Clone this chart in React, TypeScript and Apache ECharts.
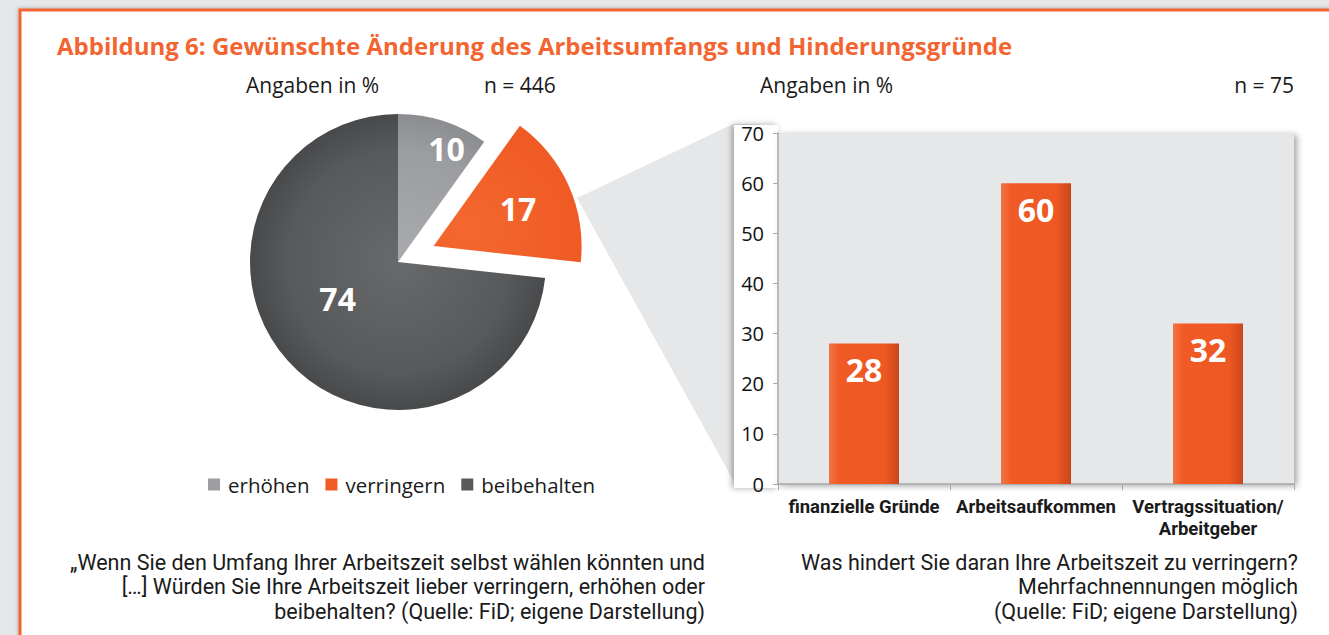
import React, { useEffect, useRef } from "react";
import * as echarts from "echarts";

const pieNames = ["erhöhen", "verringern", "beibehalten"];
const pieValues = [10, 17, 74];
const pieColors = ["#9c9da0", "#f05a24", "#58595b"];
const pieInner = ["#a9aaad", "#f3682f", "#68696b"];
const pieOuter = ["#8c8d90", "#e2511d", "#48494b"];

const barCategories = ["finanzielle Gründe", "Arbeitsaufkommen", "Vertragssituation/\nArbeitgeber"];
const barValues = [28, 60, 32];
const yTicks = { min: 0, max: 70, interval: 10 };

const title = "Abbildung 6: Gewünschte Änderung des Arbeitsumfangs und Hinderungsgründe";
const leftCaption = [
  "„Wenn Sie den Umfang Ihrer Arbeitszeit selbst wählen könnten und",
  "[…] Würden Sie Ihre Arbeitszeit lieber verringern, erhöhen oder",
  "beibehalten? (Quelle: FiD; eigene Darstellung)",
];
const rightCaption = [
  "Was hindert Sie daran Ihre Arbeitszeit zu verringern?",
  "Mehrfachnennungen möglich",
  "(Quelle: FiD; eigene Darstellung)",
];

const SANS = "'Open Sans', Lato, sans-serif";
const COND = "Roboto, 'Liberation Sans', sans-serif";

export default function App() {
  const ref = useRef<HTMLDivElement>(null);
  useEffect(() => {
    if (!ref.current) return;
    const chart = echarts.init(ref.current, undefined, { renderer: "svg" });
    const labelOffsets = [
      { dx: 25, dy: -40 },
      { dx: 14, dy: -6 },
      { dx: -3, dy: -15 },
    ];
    const pieCenter = [398, 262];
    const pieR = 148;
    const explodeShift = [
      [0, 0],
      [36, -16],
      [0, 0],
    ];
    chart.setOption({
      animation: false,
      backgroundColor: "#e6e7e8",
      textStyle: { fontFamily: SANS },
      grid: {
        left: 778,
        top: 133,
        right: 35,
        bottom: 151,
        show: true,
        z: 5,
        backgroundColor: "#e6e7e8",
        borderWidth: 0,
        shadowBlur: 6,
        shadowColor: "rgba(0,0,0,0.35)",
        shadowOffsetX: 3,
        shadowOffsetY: 2,
      },
      legend: {
        left: 203,
        top: 469,
        icon: "rect",
        itemWidth: 12,
        itemHeight: 12,
        itemGap: 16,
        data: pieNames.map((n, i) => ({ name: n, itemStyle: { color: pieColors[i] } })),
        textStyle: { fontSize: 20.5, color: "#1a1a1a", fontFamily: SANS, padding: [0, 0, 0, 3] },
        selectedMode: false,
      },
      xAxis: {
        type: "category",
        data: barCategories,
        z: 6,
        axisLine: { lineStyle: { color: "#a7a9ac", width: 1.5 } },
        axisTick: { show: true, length: 6, lineStyle: { color: "#a7a9ac" } },
        axisLabel: {
          color: "#1a1a1a",
          fontFamily: COND,
          fontWeight: "bold",
          fontSize: 18.5,
          margin: 12,
          lineHeight: 22,
          interval: 0,
        },
      },
      yAxis: {
        type: "value",
        min: yTicks.min,
        max: yTicks.max,
        interval: yTicks.interval,
        z: 6,
        axisLine: { show: true, lineStyle: { color: "#a7a9ac", width: 1.5 } },
        axisTick: { show: true, length: 5, lineStyle: { color: "#a7a9ac" } },
        splitLine: { show: false },
        axisLabel: { color: "#111", fontSize: 20, margin: 14, fontFamily: SANS },
      },
      series: [
        {
          type: "bar",
          z: 10,
          data: barValues,
          barWidth: 70,
          itemStyle: {
            color: {
              type: "linear",
              x: 0, y: 0, x2: 1, y2: 0,
              colorStops: [
                { offset: 0, color: "#f27444" },
                { offset: 0.15, color: "#f05a24" },
                { offset: 0.8, color: "#ee5822" },
                { offset: 1, color: "#c9461a" },
              ],
            },
          },
          label: {
            show: true,
            position: "insideTop",
            distance: 10,
            color: "#fff",
            fontSize: 32,
            fontWeight: "bold",
            fontFamily: SANS,
          },
        },
        {
          type: "pie",
          z: 10,
          center: pieCenter,
          radius: pieR,
          startAngle: 90,
          clockwise: true,
          selectedMode: "single",
          selectedOffset: 39,
          emphasis: { disabled: true },
          data: pieValues.map((v, i) => {
            const fill = {
              type: "radial",
              global: true,
              x: pieCenter[0] + explodeShift[i][0],
              y: pieCenter[1] + explodeShift[i][1],
              r: pieR,
              colorStops: [
                { offset: 0, color: pieInner[i] },
                { offset: 0.75, color: pieColors[i] },
                { offset: 1, color: pieOuter[i] },
              ],
            };
            return {
              name: pieNames[i],
              value: v,
              selected: i === 1,
              itemStyle: { color: fill },
              select: { itemStyle: { color: fill } },
            };
          }),
          label: {
            show: true,
            position: "inside",
            formatter: "{c}",
            color: "#fff",
            fontSize: 32,
            fontWeight: "bold",
            fontFamily: SANS,
          },
          labelLine: { show: false },
          labelLayout: (p: any) => labelOffsets[p.dataIndex],
        },
      ],
      graphic: [
        {
          type: "rect",
          z: 1,
          shape: { x: 20, y: 10, width: 1400, height: 700 },
          style: {
            fill: "#fff",
            stroke: "#f26531",
            lineWidth: 3,
            shadowBlur: 4,
            shadowColor: "rgba(0,0,0,0.3)",
          },
        },
        {
          type: "polygon",
          z: 2,
          shape: { points: [[577, 198], [733, 124], [760, 124], [760, 487], [737, 487]] },
          style: { fill: "#e6e7e8" },
        },
        {
          type: "rect",
          z: 3,
          shape: { x: 734, y: 125, width: 44, height: 363 },
          style: {
            fill: "#fff",
            shadowBlur: 6,
            shadowColor: "rgba(0,0,0,0.35)",
            shadowOffsetX: -2,
          },
        },
        {
          type: "text",
          z: 20,
          x: 57,
          y: 33,
          style: { text: title, fill: "#f26531", fontSize: 24, fontWeight: "bold", fontFamily: SANS, verticalAlign: "top" },
        },
        {
          type: "text", z: 20, x: 246, y: 74,
          style: { text: "Angaben in %", fill: "#1a1a1a", fontSize: 21, fontFamily: SANS, verticalAlign: "top" },
        },
        {
          type: "text", z: 20, x: 484, y: 74,
          style: { text: "n = 446", fill: "#1a1a1a", fontSize: 21, fontFamily: SANS, verticalAlign: "top" },
        },
        {
          type: "text", z: 20, x: 760, y: 74,
          style: { text: "Angaben in %", fill: "#1a1a1a", fontSize: 21, fontFamily: SANS, verticalAlign: "top" },
        },
        {
          type: "text", z: 20, x: 1294, y: 74,
          style: { text: "n = 75", fill: "#1a1a1a", fontSize: 21, fontFamily: SANS, align: "right", verticalAlign: "top" },
        },
        {
          type: "text", z: 20, x: 705, y: 550,
          style: {
            text: leftCaption.join("\n"),
            fill: "#1a1a1a", fontSize: 21.5, lineHeight: 24.5, align: "right", verticalAlign: "top", fontFamily: COND,
          },
        },
        {
          type: "text", z: 20, x: 1298, y: 550,
          style: {
            text: rightCaption.join("\n"),
            fill: "#1a1a1a", fontSize: 21.5, lineHeight: 24.5, align: "right", verticalAlign: "top", fontFamily: COND,
          },
        },
      ],
    });
    return () => chart.dispose();
  }, []);
  return (
    <div
      ref={ref}
      style={{ position: "fixed", left: 0, top: 0, width: 1329, height: 635 }}
    />
  );
}
